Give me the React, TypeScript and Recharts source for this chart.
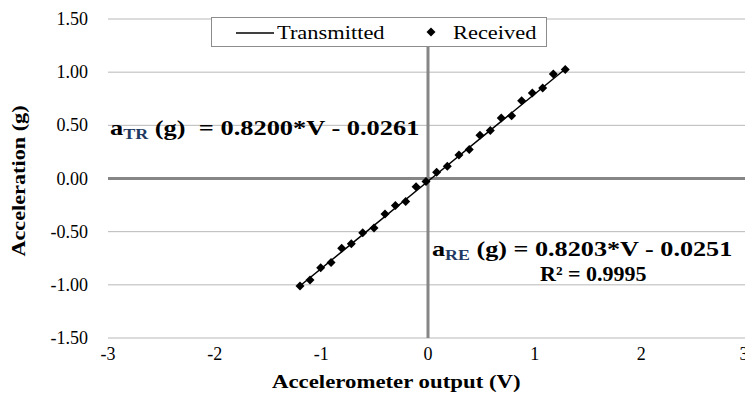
import {
    ComposedChart,
    Line,
    Scatter,
    XAxis,
    YAxis,
    CartesianGrid,
    ReferenceLine,
} from "recharts";
import type { CSSProperties, ReactNode } from "react";

// accelerometer output (V) vs. received acceleration (g)
const receivedV = [
    -1.2, -1.106, -1.006, -0.909, -0.809, -0.719, -0.612, -0.506, -0.403, -0.306,
    -0.209, -0.112, -0.019, 0.081, 0.181, 0.29, 0.387, 0.487, 0.584, 0.687, 0.784,
    0.878, 0.978, 1.075, 1.175, 1.287,
];
const receivedG = [
    -1.01, -0.955, -0.84, -0.79, -0.657, -0.613, -0.51, -0.466, -0.335, -0.254,
    -0.216, -0.078, -0.028, 0.059, 0.116, 0.222, 0.272, 0.407, 0.451, 0.57, 0.59,
    0.732, 0.805, 0.852, 0.983, 1.026,
];

// transmitted reference line
const transmittedV = [-1.21, -0.6, 0, 0.6, 1.29];
const transmittedG = [-1.018, -0.518, -0.026, 0.466, 1.032];

const xTicks = [-3, -2, -1, 0, 1, 2, 3];
const yTicks = [-1.5, -1, -0.5, 0, 0.5, 1, 1.5];

const received = receivedV.map((v, i) => ({ v, a: receivedG[i] }));
const transmitted = transmittedV.map((v, i) => ({ v, a: transmittedG[i] }));

const serif = "'Liberation Serif', 'Times New Roman', serif";

// eslint-disable-next-line @typescript-eslint/no-explicit-any
const XTick = ({ x, y, payload }: any) => (
    <text x={x} y={y + 12} textAnchor="middle" fontFamily={serif} fontSize={18} fill="#000">
        {payload.value}
    </text>
);

// eslint-disable-next-line @typescript-eslint/no-explicit-any
const YTick = ({ x, y, payload }: any) => (
    <text x={x} y={y + 6} textAnchor="end" fontFamily={serif} fontSize={18} fill="#000">
        {Number(payload.value).toFixed(2)}
    </text>
);

// eslint-disable-next-line @typescript-eslint/no-explicit-any
const Diamond = (props: any) => {
    const { cx, cy } = props;
    const r = 4.5;
    return (
        <polygon
            points={`${cx},${cy - r} ${cx + r},${cy} ${cx},${cy + r} ${cx - r},${cy}`}
            fill="#000"
        />
    );
};

// text placed by its left edge and baseline, stretched horizontally
const Stretch = ({
    left,
    baseline,
    size,
    sx,
    bold = true,
    children,
}: {
    left: number;
    baseline: number;
    size: number;
    sx: number;
    bold?: boolean;
    children: ReactNode;
}) => (
    <div
        style={{
            position: "absolute",
            left,
            top: baseline - size * 0.84,
            fontFamily: serif,
            fontSize: size,
            fontWeight: bold ? "bold" : "normal",
            lineHeight: 1,
            whiteSpace: "pre",
            transform: `scaleX(${sx})`,
            transformOrigin: "left top",
            color: "#000",
        }}
    >
        {children}
    </div>
);

const sub: CSSProperties = { fontSize: 15, verticalAlign: -4, color: "#1f3a63" };

const LegendBox = () => (
    <div
        style={{
            position: "absolute",
            left: 211,
            top: 17,
            width: 336,
            height: 30,
            border: "1px solid #8c8c8c",
            background: "#fff",
            boxSizing: "border-box",
        }}
    >
        <svg width={40} height={10} style={{ position: "absolute", left: 24, top: 10 }}>
            <line x1={0} y1={5} x2={38} y2={5} stroke="#000" strokeWidth={1.5} />
        </svg>
        <Stretch left={65} baseline={21} size={19} sx={1.18} bold={false}>
            Transmitted
        </Stretch>
        <svg width={12} height={12} style={{ position: "absolute", left: 213, top: 8 }}>
            <polygon points="6,1.5 10.5,6 6,10.5 1.5,6" fill="#000" />
        </svg>
        <Stretch left={241} baseline={21} size={19} sx={1.18} bold={false}>
            Received
        </Stretch>
    </div>
);

export default function App() {
    return (
        <div
            style={{
                position: "absolute",
                left: 0,
                top: 0,
                width: 745,
                height: 399,
                overflow: "hidden",
                background: "#fff",
            }}
        >
            <ComposedChart
                width={748}
                height={399}
                margin={{ top: 19, right: 0, bottom: 0, left: 0 }}
            >
                <CartesianGrid vertical={false} stroke="#b8b8b8" />
                <XAxis
                    type="number"
                    dataKey="v"
                    domain={[-3, 3]}
                    ticks={xTicks}
                    axisLine={false}
                    tickLine={false}
                    tick={<XTick />}
                    tickMargin={4}
                    height={61}
                />
                <YAxis
                    type="number"
                    dataKey="a"
                    domain={[-1.5, 1.5]}
                    ticks={yTicks}
                    width={108}
                    axisLine={false}
                    tickLine={false}
                    tickMargin={14}
                    tick={<YTick />}
                />
                <ReferenceLine y={0} stroke="#868686" strokeWidth={3} />
                <ReferenceLine x={0} stroke="#868686" strokeWidth={3} />
                <Line
                    data={transmitted}
                    dataKey="a"
                    type="linear"
                    stroke="#000"
                    strokeWidth={1.5}
                    dot={false}
                    name="Transmitted"
                    isAnimationActive={false}
                />
                <Scatter
                    data={received}
                    dataKey="a"
                    shape={Diamond}
                    name="Received"
                    isAnimationActive={false}
                />
            </ComposedChart>

            <LegendBox />

            {/* axis titles */}
            <Stretch left={272} baseline={388} size={19} sx={1.2}>
                Accelerometer output (V)
            </Stretch>
            <div
                style={{
                    position: "absolute",
                    left: 18,
                    top: 181,
                    fontFamily: serif,
                    fontSize: 19,
                    fontWeight: "bold",
                    lineHeight: 1,
                    whiteSpace: "pre",
                    transform: "translate(-50%, -50%) rotate(-90deg) scaleX(1.17)",
                }}
            >
                Acceleration (g)
            </div>

            {/* regression equations */}
            <Stretch left={110} baseline={135} size={22} sx={1.2}>
                a<span style={sub}>TR</span> (g)  = 0.8200*V - 0.0261
            </Stretch>
            <Stretch left={432} baseline={256} size={22} sx={1.19}>
                a<span style={sub}>RE</span> (g) = 0.8203*V - 0.0251
            </Stretch>
            <Stretch left={540} baseline={281} size={22} sx={1.0}>
                R² = 0.9995
            </Stretch>
        </div>
    );
}
